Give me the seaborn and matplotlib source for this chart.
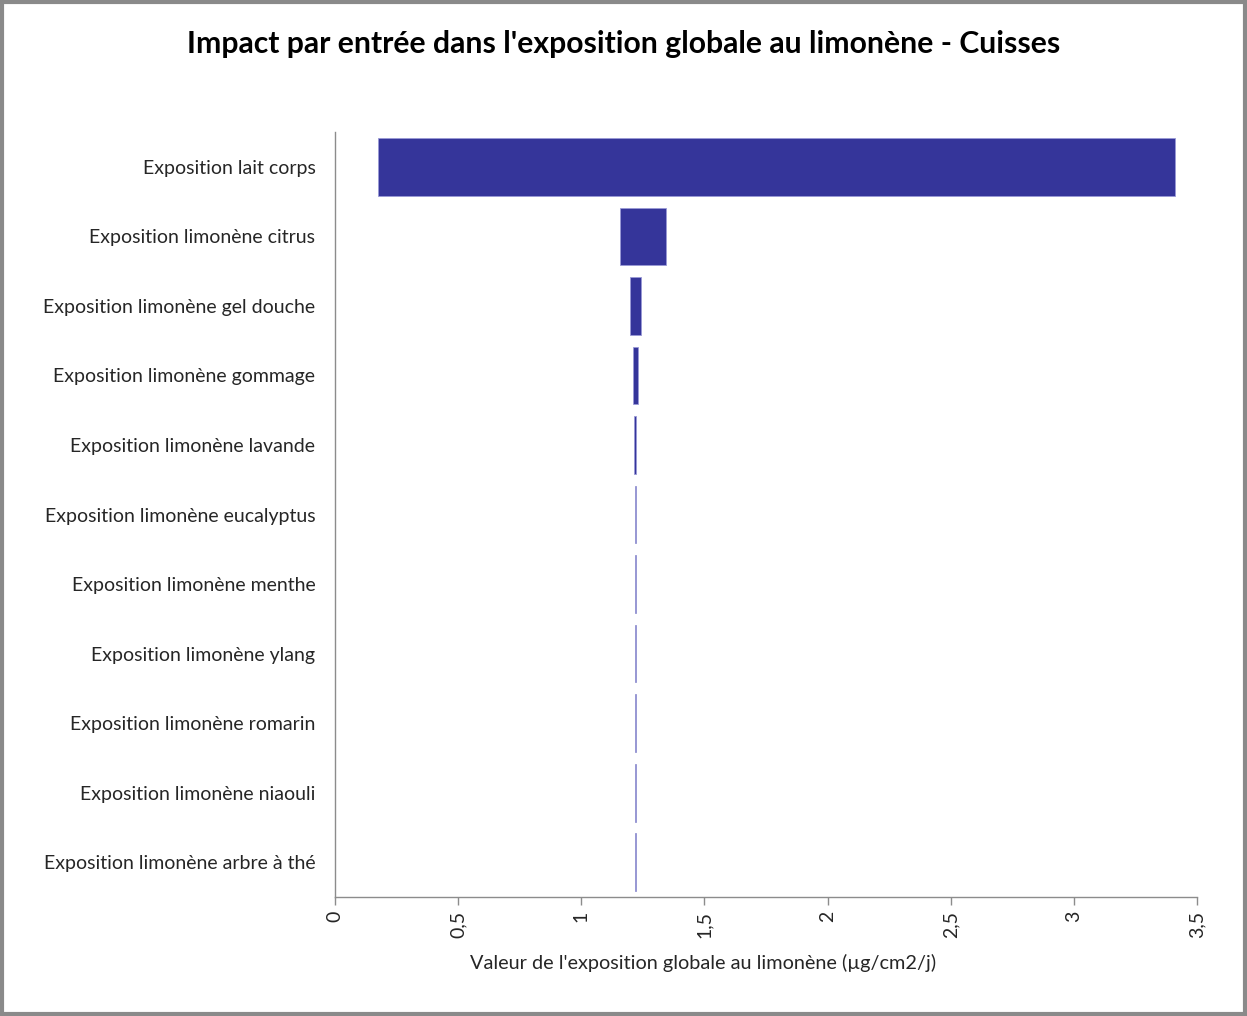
import numpy as np
import pandas as pd
import matplotlib
matplotlib.use("Agg")
import matplotlib.pyplot as plt
import seaborn as sns
from matplotlib.patches import Rectangle

categories = [
    "Exposition lait corps",
    "Exposition limonène citrus",
    "Exposition limonène gel douche",
    "Exposition limonène gommage",
    "Exposition limonène lavande",
    "Exposition limonène eucalyptus",
    "Exposition limonène menthe",
    "Exposition limonène ylang",
    "Exposition limonène romarin",
    "Exposition limonène niaouli",
    "Exposition limonène arbre à thé",
]
low_values = [0.175, 1.157, 1.196, 1.212, 1.216, 1.218, 1.2197, 1.2197, 1.2197, 1.2197, 1.2197]
high_values = [3.41, 1.344, 1.242, 1.229, 1.224, 1.222, 1.2203, 1.2203, 1.2203, 1.2203, 1.2203]
xticks = [0, 0.5, 1, 1.5, 2, 2.5, 3, 3.5]
xtick_labels = ["0", "0,5", "1", "1,5", "2", "2,5", "3", "3,5"]

df = pd.DataFrame({"Entree": categories, "Low": low_values, "High": high_values})
df["Width"] = df["High"] - df["Low"]

sns.set_theme(style="white")
plt.rcParams['font.family'] = ['Lato', 'DejaVu Sans']

fig = plt.figure(figsize=(12.47, 10.16), dpi=100)
ax = fig.add_axes([0.2686, 0.1171, 0.6913, 0.7529])

sns.barplot(data=df, x="Width", y="Entree", orient="h", color="#35359a",
            saturation=1, width=0.83, edgecolor="#9a9ad6", linewidth=0.6, ax=ax)

# shift each bar to start at its low value (tornado layout)
for patch, lo in zip(ax.patches, df["Low"]):
    patch.set_x(lo)

ax.set_xlim(0, 3.5)
ax.set_xticks(xticks)
ax.set_xticklabels(xtick_labels, rotation=90, fontsize=14)
ax.tick_params(axis="x", direction="out", length=6, width=1, color="#8c8c8c", pad=4, bottom=True)
ax.tick_params(axis="y", length=0, labelsize=14, pad=14)
ax.set_ylabel("")
ax.set_xlabel("Valeur de l'exposition globale au limonène (µg/cm2/j)", fontsize=14.3)
ax.xaxis.set_label_coords(0.427, -0.075)

for side in ["top", "right"]:
    ax.spines[side].set_visible(False)
for side in ["left", "bottom"]:
    ax.spines[side].set_color("#8c8c8c")
    ax.spines[side].set_linewidth(1)

fig.text(0.5, 0.957, "Impact par entrée dans l'exposition globale au limonène - Cuisses",
         ha="center", va="center", fontsize=21.7, fontweight="bold", color="black")

fig.patches.append(Rectangle((0.002, 0.002), 0.996, 0.996, transform=fig.transFigure,
                             fill=False, edgecolor="#8a8a8a", linewidth=3))

fig.savefig("out.png", dpi=100, facecolor="white")
